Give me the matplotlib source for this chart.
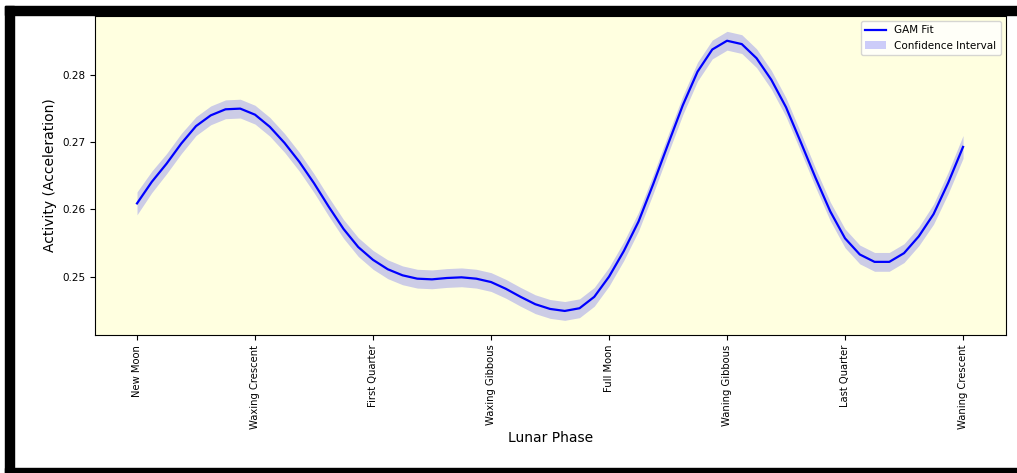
import matplotlib
matplotlib.use("Agg")
import matplotlib.pyplot as plt
import numpy as np
from matplotlib.patches import Rectangle

# Lunar phase categories (tick labels)
phase_labels = ["New Moon", "Waxing Crescent", "First Quarter", "Waxing Gibbous",
                "Full Moon", "Waning Gibbous", "Last Quarter", "Waning Crescent"]

# Position along the lunar cycle (phase index), read every 1/8 of a phase step
phase_pos = [0.000, 0.125, 0.250, 0.375, 0.500, 0.625, 0.750, 0.875,
             1.000, 1.125, 1.250, 1.375, 1.500, 1.625, 1.750, 1.875,
             2.000, 2.125, 2.250, 2.375, 2.500, 2.625, 2.750, 2.875,
             3.000, 3.125, 3.250, 3.375, 3.500, 3.625, 3.750, 3.875,
             4.000, 4.125, 4.250, 4.375, 4.500, 4.625, 4.750, 4.875,
             5.000, 5.125, 5.250, 5.375, 5.500, 5.625, 5.750, 5.875,
             6.000, 6.125, 6.250, 6.375, 6.500, 6.625, 6.750, 6.875,
             7.000]
# GAM fit
gam_fit = [0.2609, 0.2641, 0.2668, 0.2698, 0.2724, 0.2740, 0.2749, 0.2750,
           0.2741, 0.2723, 0.2699, 0.2671, 0.2639, 0.2604, 0.2571, 0.2544,
           0.2525, 0.2511, 0.2502, 0.2497, 0.2496, 0.2498, 0.2499, 0.2497,
           0.2492, 0.2482, 0.2470, 0.2459, 0.2452, 0.2449, 0.2453, 0.2470,
           0.2500, 0.2538, 0.2582, 0.2638, 0.2697, 0.2755, 0.2805, 0.2838,
           0.2851, 0.2846, 0.2825, 0.2793, 0.2752, 0.2700, 0.2647, 0.2597,
           0.2557, 0.2533, 0.2522, 0.2522, 0.2535, 0.2560, 0.2593, 0.2640,
           0.2693]
# Half width of the confidence interval
ci_half = [0.0017, 0.0016, 0.0015, 0.0015, 0.0014, 0.0014, 0.0014, 0.0014,
           0.0014, 0.0014, 0.0014, 0.0014, 0.0014, 0.0014, 0.0014, 0.0014,
           0.0014, 0.0014, 0.0014, 0.0014, 0.0014, 0.0014, 0.0014, 0.0014,
           0.0014, 0.0014, 0.0014, 0.0014, 0.0014, 0.0014, 0.0014, 0.0014,
           0.0014, 0.0014, 0.0014, 0.0014, 0.0014, 0.0014, 0.0014, 0.0014,
           0.0014, 0.0014, 0.0014, 0.0014, 0.0014, 0.0014, 0.0014, 0.0014,
           0.0014, 0.0014, 0.0014, 0.0014, 0.0014, 0.0014, 0.0015, 0.0016,
           0.0017]

x = np.array(phase_pos)
y = np.array(gam_fit)
h = np.array(ci_half)

fig = plt.figure(figsize=(10.17, 4.73), dpi=100)
ax = fig.add_axes([95/1017, 1-335/473, (1006-95)/1017, (335-16)/473])
ax.set_facecolor("lightyellow")

ax.plot(x, y, color="blue", lw=1.6, label="GAM Fit")
ax.fill_between(x, y - h, y + h, color="blue", alpha=0.2, linewidth=0,
                label="Confidence Interval")

ax.set_xticks(range(len(phase_labels)))
ax.set_xticklabels(phase_labels, rotation=90, fontsize=7.2)
ax.set_xlim(-0.356, 7.364)
ax.set_ylim(0.24132, 0.28878)
ax.set_yticks([0.25, 0.26, 0.27, 0.28])
ax.tick_params(axis="y", labelsize=7.5)
ax.set_xlabel("Lunar Phase", fontsize=10, labelpad=1)
ax.set_ylabel("Activity (Acceleration)", fontsize=10)
ax.legend(loc="upper right", fontsize=7.5)

# black screenshot frame
W, H = 1017, 473
def px_rect(x0, y0, x1, y1):
    fig.patches.append(Rectangle((x0/W, 1-y1/H), (x1-x0)/W, (y1-y0)/H,
                                 transform=fig.transFigure, color="black",
                                 zorder=10))
px_rect(5, 6, 1017, 15)
px_rect(5, 6, 14, 473)
px_rect(5, 468, 1017, 473)

fig.savefig("out.png", dpi=100)
